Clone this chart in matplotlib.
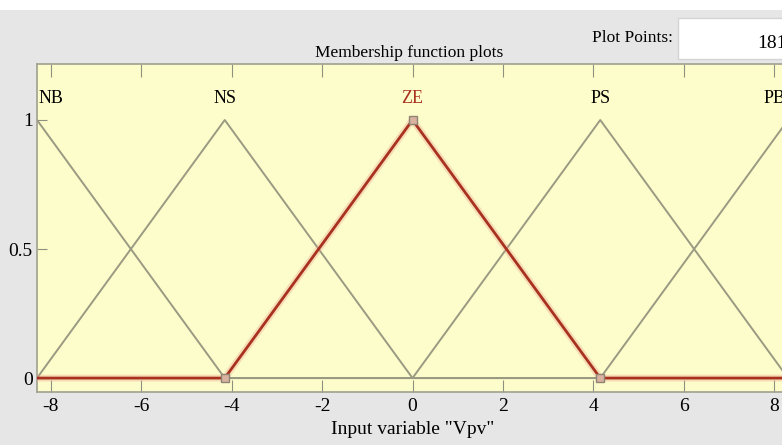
import numpy as np
import matplotlib.pyplot as plt
from matplotlib.patches import Rectangle

# Membership functions of the input variable "Vpv" (triangular, a-b-c)
mf_names = ["NB", "NS", "ZE", "PS", "PB"]
mf_params = [
    [-12.45, -8.3, -4.15],
    [-8.3, -4.15, 0.0],
    [-4.15, 0.0, 4.15],
    [0.0, 4.15, 8.3],
    [4.15, 8.3, 12.45],
]
selected = "ZE"
x_range = [-8.3, 8.3]
plot_points = 181
x_ticks = [-8, -6, -4, -2, 0, 2, 4, 6, 8]
y_ticks = [0, 0.5, 1]
y_tick_labels = ["0", "0.5", "1"]


def trimf(x, abc):
    a, b, c = abc
    left = (x - a) / (b - a)
    right = (c - x) / (c - b)
    return np.clip(np.minimum(left, right), 0, 1)


plt.rcParams["font.family"] = ["Liberation Serif", "DejaVu Serif"]

fig = plt.figure(figsize=(7.82, 4.45), dpi=100)
fig.patch.set_facecolor("#e6e6e6")

# white strip along the top edge of the window
fig.patches.append(Rectangle((0, 1 - 10 / 445), 1, 10 / 445, transform=fig.transFigure,
                             facecolor="white", edgecolor="none", zorder=0))

ax = fig.add_axes([37 / 782, 1 - 392 / 445, 751 / 782, 328 / 445])
ax.set_facecolor("#fdfdcb")

x = np.linspace(x_range[0], x_range[1], plot_points)
gray = "#9a9a82"
red = "#a8321f"

for name, abc in zip(mf_names, mf_params):
    if name == selected:
        continue
    ax.plot(x, trimf(x, abc), color=gray, lw=1.4, zorder=2)

for name, abc in zip(mf_names, mf_params):
    peak = abc[1]
    if name == selected:
        y = trimf(x, abc)
        ax.plot(x, y, color="#eaa290", lw=5, alpha=0.35, zorder=3)
        ax.plot(x, y, color=red, lw=2.0, zorder=4)
        # vertex handles
        for vx, vy in zip(abc, [0, 1, 0]):
            ax.plot(vx, vy, marker="s", ms=6, mfc="#d9b3a0", mec="#8f8474",
                    mew=1.0, zorder=5)
    if name == mf_names[0]:
        ha, px = "left", peak + 0.04
    elif name == mf_names[-1]:
        ha, px = "right", peak - 0.05
    else:
        ha, px = "center", peak
    ax.text(px, 1.085, name, ha=ha, va="center", fontsize=13,
            color=red if name == selected else "black", zorder=6)

ax.set_xlim(x_range)
ax.set_ylim(-0.054, 1.217)
ax.set_xticks(x_ticks)
ax.set_xticklabels([str(t) for t in x_ticks])
ax.set_yticks(y_ticks)
ax.set_yticklabels(y_tick_labels)
ax.tick_params(axis="x", direction="in", top=True, bottom=True, length=9,
               width=0.8, color="#909080", labelsize=14, pad=4)
ax.tick_params(axis="y", direction="in", left=True, right=False, length=7,
               width=0.8, color="#909080", labelsize=14, pad=3)
for s in ax.spines.values():
    s.set_color("#a0a090")
    s.set_linewidth(1.2)

ax.set_xlabel('Input variable "Vpv"', fontsize=14, labelpad=5)
fig.text(409 / 782, 1 - 53 / 445, "Membership function plots", ha="center",
         va="center", fontsize=12.5)

# plot points field
fig.text(632 / 782, 1 - 38 / 445, "Plot Points:", ha="center", va="center",
         fontsize=12.5)
fig.patches.append(Rectangle((678 / 782, 1 - 59 / 445), 110 / 782, 41 / 445,
                             transform=fig.transFigure, facecolor="white",
                             edgecolor="#d4d4d4", lw=1, zorder=1))
fig.text(772 / 782, 1 - 44 / 445, str(plot_points), ha="center", va="center",
         fontsize=14)

fig.savefig("out.png", dpi=100, facecolor=fig.get_facecolor())
